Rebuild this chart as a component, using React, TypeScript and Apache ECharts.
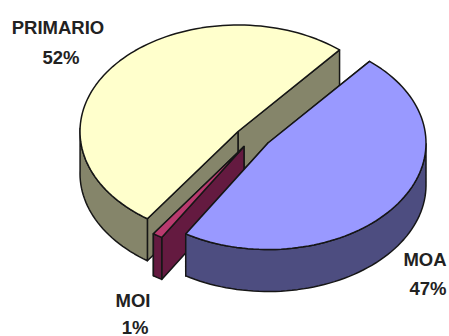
import React, { useEffect, useRef } from "react";
import * as echarts from "echarts";

// Share of each category, in percent, in drawing order (counter-clockwise).
const categories = ["PRIMARIO", "MOI", "MOA"];
const shares = [52, 1, 47];

const START_DEG = 50;
const RADIUS_X = 158;
const RADIUS_Y = 106.5;
const DEPTH = 42;
const OUTLINE = "#161616";
// Foreshortening of the tilted disc: rim angles drift by up to this many degrees.
const PERSPECTIVE_DEG = 2.2;

// Exploded slice centres and colours.
const looks = [
  { cx: 238, cy: 131.5, top: "#ffffcc", side: "#85856a" },
  { cx: 244, cy: 146.5, top: "#b93a6e", side: "#641a40" },
  { cx: 268, cy: 143, top: "#9999ff", side: "#4d4d80" },
];

const labelSpots = [
  { nameAt: [58, 27], valueAt: [61, 57] },
  { nameAt: [133, 300], valueAt: [135, 327] },
  { nameAt: [425, 259], valueAt: [428, 288] },
];

const total = shares.reduce((a, b) => a + b, 0);

function renderSlice(params: any, api: any) {
  const i = params.dataIndex;
  const look = looks[i];
  const before = shares.slice(0, i).reduce((a, b) => a + b, 0);
  const a0 = START_DEG + (before / total) * 360;
  const a1 = a0 + (api.value(0) / total) * 360;
  const at = (deg: number, drop = 0): number[] => {
    const off = ((deg - START_DEG) * Math.PI) / 180;
    const r = ((deg + (PERSPECTIVE_DEG * (Math.cos(off) - 1)) / 2) * Math.PI) / 180;
    return [look.cx + RADIUS_X * Math.cos(r), look.cy - RADIUS_Y * Math.sin(r) + drop];
  };
  const sweep = (from: number, to: number, drop = 0) => {
    const pts: number[][] = [];
    const n = Math.max(2, Math.ceil((to - from) / 2));
    for (let k = 0; k <= n; k++) pts.push(at(from + ((to - from) * k) / n, drop));
    return pts;
  };
  const poly = (points: number[][], fill: string) => ({
    type: "polygon",
    shape: { points },
    style: { fill, stroke: OUTLINE, lineWidth: 1.5, lineJoin: "round" },
  });
  const children: any[] = [];
  // Radial cut faces
  const centre = [look.cx, look.cy];
  const centreLow = [look.cx, look.cy + DEPTH];
  for (const edge of [a0, a1]) {
    children.push(poly([centre, at(edge), at(edge, DEPTH), centreLow], look.side));
  }
  // Outer wall: only the part of the rim on the near half of the ellipse
  for (const turn of [0, 360]) {
    const from = Math.max(a0, 180 + turn);
    const to = Math.min(a1, 360 + turn);
    if (to > from) {
      children.push(poly([...sweep(from, to), ...sweep(from, to, DEPTH).reverse()], look.side));
    }
  }
  // Top face
  children.push(poly([centre, ...sweep(a0, a1)], look.top));
  return { type: "group", children };
}

export default function App() {
  const ref = useRef<HTMLDivElement>(null);
  useEffect(() => {
    document.body.style.margin = "0";
    const chart = echarts.init(ref.current!, null, { renderer: "svg" });
    const text = (str: string, pos: number[]) => ({
      type: "text",
      x: pos[0],
      y: pos[1],
      style: {
        text: str,
        fill: "#222222",
        font: 'bold 18.5px "Liberation Sans", Arial, sans-serif',
        align: "center",
        verticalAlign: "middle",
      },
    });
    chart.setOption({
      animation: false,
      backgroundColor: "#ffffff",
      graphic: categories.flatMap((name, i) => [
        text(name, labelSpots[i].nameAt),
        text(`${shares[i]}%`, labelSpots[i].valueAt),
      ]),
      series: [
        {
          type: "custom",
          coordinateSystem: "none",
          renderItem: renderSlice,
          data: shares.map((v) => [v]),
        },
      ],
    });
    return () => chart.dispose();
  }, []);
  return <div ref={ref} style={{ width: 449, height: 336 }} />;
}
